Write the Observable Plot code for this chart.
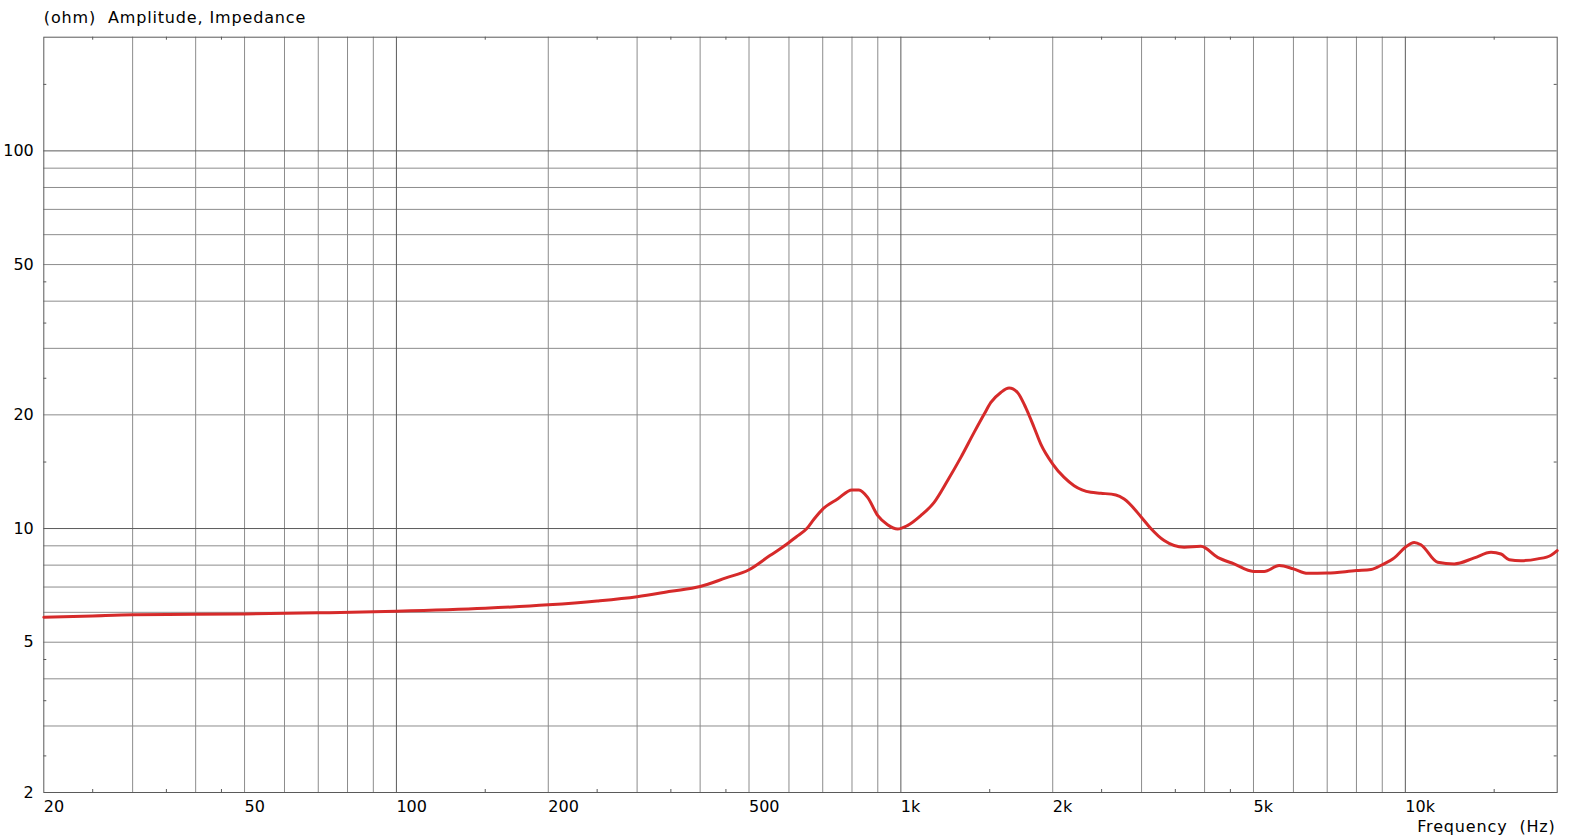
<!DOCTYPE html>
<html>
<head>
<meta charset="utf-8">
<script src="https://cdn.jsdelivr.net/npm/d3@7"></script>
<script src="https://cdn.jsdelivr.net/npm/@observablehq/plot@0.6"></script>
<style>
  html, body { margin: 0; padding: 0; background: #ffffff; }
  #chart svg { display: block; }
</style>
</head>
<body>
<div id="chart"></div>
<script>
// ---- data ----
const freqHz = [20, 25, 30, 40, 50, 70, 100, 150, 200, 250, 300, 350, 400, 450, 500, 550, 588, 620, 651, 673, 700, 749, 800, 826, 859, 900, 941, 985, 1030, 1095, 1164, 1237, 1315, 1397, 1463, 1508, 1578, 1639, 1703, 1768, 1837, 1894, 2000, 2107, 2205, 2380, 2491, 2668, 2771, 3000, 3130, 3326, 3644, 3933, 4245, 4576, 5000, 5251, 5624, 6000, 6401, 7000, 8000, 8552, 9000, 9507, 10000, 10413, 10737, 11589, 12500, 13696, 14785, 15476, 16069, 16952, 18294, 19446, 20000];
const impedanceOhm = [5.82, 5.87, 5.91, 5.93, 5.94, 5.98, 6.04, 6.15, 6.28, 6.43, 6.6, 6.82, 7.02, 7.40, 7.78, 8.48, 9.0, 9.5, 10.0, 10.6, 11.26, 11.97, 12.65, 12.65, 12.09, 10.82, 10.24, 9.97, 10.18, 10.82, 11.73, 13.38, 15.43, 17.97, 20.1, 21.57, 22.93, 23.55, 22.93, 20.9, 18.52, 16.73, 14.82, 13.66, 12.99, 12.47, 12.4, 12.27, 11.97, 10.7, 10.0, 9.29, 8.92, 8.97, 8.39, 8.06, 7.70, 7.70, 7.98, 7.82, 7.61, 7.62, 7.74, 7.79, 8.02, 8.36, 8.92, 9.19, 9.06, 8.14, 8.06, 8.36, 8.65, 8.56, 8.27, 8.22, 8.31, 8.5, 8.74];

const xGridValues = [30, 40, 50, 60, 70, 80, 90, 200, 300, 400, 500, 600, 700, 800, 900, 2000, 3000, 4000, 5000, 6000, 7000, 8000, 9000];
const xMajorGridValues = [100, 1000, 10000];
const xMinorTickValues = [25, 35, 45, 150, 250, 350, 450, 1500, 2500, 3500, 4500, 15000];
const xTickValues = [20, 50, 100, 200, 500, 1000, 2000, 5000, 10000];
const xTickLabels = ["20", "50", "100", "200", "500", "1k", "2k", "5k", "10k"];

const yGridValues = [3, 4, 5, 6, 7, 8, 9, 20, 30, 40, 50, 60, 70, 80, 90];
const yMajorGridValues = [10, 100];
const yMinorTickValues = [2.5, 3.5, 4.5, 15, 25, 35, 45, 150];
const yTickValues = [2, 5, 10, 20, 50, 100];
const yTickLabels = ["2", "5", "10", "20", "50", "100"];

const titleText = "(ohm)\u00a0 Amplitude, Impedance";
const xLabelText = "Frequency\u00a0 (Hz)";

// ---- layout ----
const W = 1579, H = 839;
const mL = 43.3, mT = 36.7, mR = 22.3, mB = 47;
const plotW = W - mL - mR, plotH = H - mT - mB;

const series = freqHz.map((f, i) => ({f, z: impedanceOhm[i]}));
const xLabels = xTickValues.map((v, i) => ({v, t: xTickLabels[i]}));
const yLabels = yTickValues.map((v, i) => ({v, t: yTickLabels[i]}));

const font = "DejaVu Sans, Verdana, sans-serif";
const gridColor = "#8c8c8c";
const darkColor = "#5a5a5a";

const chart = Plot.plot({
  width: W,
  height: H,
  marginLeft: mL,
  marginTop: mT,
  marginRight: mR,
  marginBottom: mB,
  style: {fontFamily: font, fontSize: "16px", background: "#ffffff", color: "#000"},
  x: {type: "log", domain: [20, 20000], axis: null},
  y: {type: "log", domain: [2, 200], axis: null},
  marks: [
    Plot.ruleX(xGridValues, {stroke: gridColor, strokeWidth: 1}),
    Plot.ruleY(yGridValues, {stroke: gridColor, strokeWidth: 1}),
    Plot.ruleX(xMajorGridValues, {stroke: darkColor, strokeWidth: 1}),
    Plot.ruleY(yMajorGridValues, {stroke: darkColor, strokeWidth: 1}),
    // minor inward ticks on all four sides
    Plot.tickX(xMinorTickValues, {x: d => d, stroke: darkColor, insetTop: plotH - 3}),
    Plot.tickX(xMinorTickValues, {x: d => d, stroke: darkColor, insetBottom: plotH - 3}),
    Plot.tickY(yMinorTickValues, {y: d => d, stroke: darkColor, insetRight: plotW - 3}),
    Plot.tickY(yMinorTickValues, {y: d => d, stroke: darkColor, insetLeft: plotW - 3}),
    Plot.frame({stroke: darkColor, strokeWidth: 1}),
    // tick labels
    Plot.text(xLabels, {
      x: "v", text: "t", frameAnchor: "bottom", textAnchor: "start", lineAnchor: "middle",
      dy: 14, fontSize: 16, fill: "#000"
    }),
    Plot.text(yLabels, {
      y: "v", text: "t", frameAnchor: "left", textAnchor: "end", lineAnchor: "middle",
      dx: -10, fontSize: 16, fill: "#000"
    }),
    Plot.line(series, {x: "f", y: "z", stroke: "#d62a2a", strokeWidth: 3, curve: "monotone-x"}),
    Plot.text([titleText], {
      frameAnchor: "top-left", text: d => d, textAnchor: "start", lineAnchor: "middle",
      dy: -19, fontSize: 16, fill: "#000"
    }),
    Plot.text([xLabelText], {
      frameAnchor: "bottom-right", text: d => d, textAnchor: "end", lineAnchor: "middle",
      dy: 34.5, dx: -1.5, fontSize: 16, fill: "#000"
    })
  ]
});
// letter spacing for the two long labels (Verdana-like width)
d3.select(chart).selectAll("text").filter(function() {
  const t = this.textContent;
  return t === titleText || t === xLabelText;
}).style("letter-spacing", "0.85px");
document.getElementById("chart").appendChild(chart);
</script>
</body>
</html>
